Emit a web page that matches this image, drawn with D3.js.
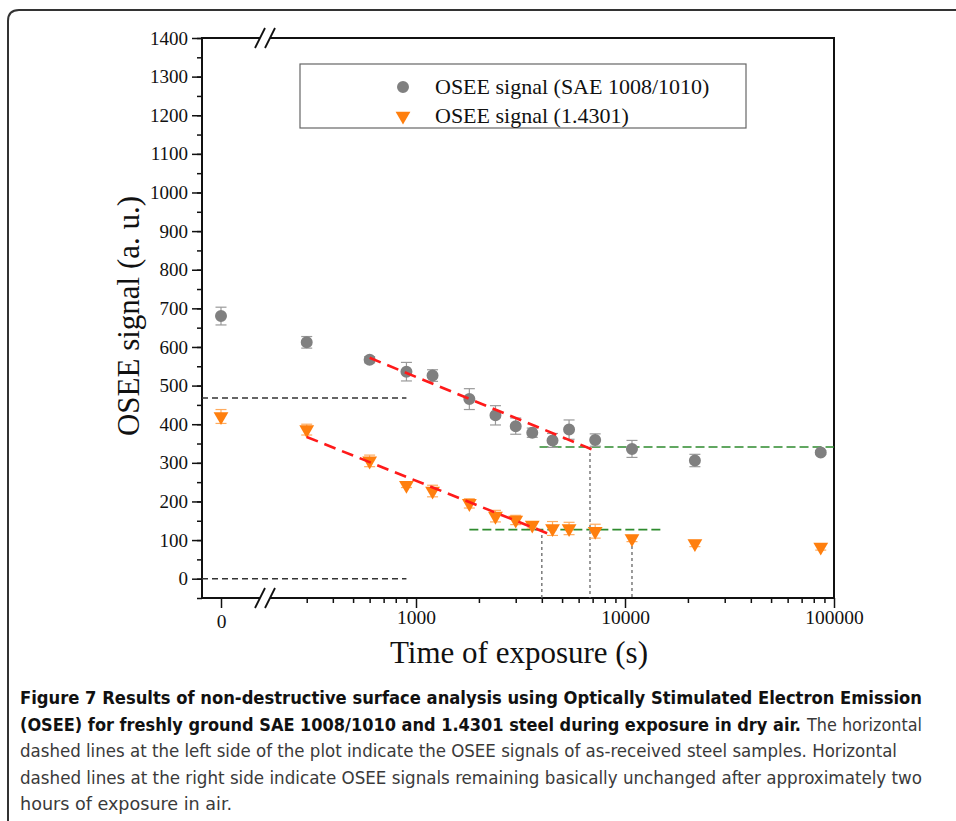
<!DOCTYPE html>
<html>
<head>
<meta charset="utf-8">
<script src="https://cdn.jsdelivr.net/npm/d3@7"></script>
<style>
  body { margin: 0; background: #fff; }
  svg { display: block; }
</style>
</head>
<body>
<div id="chart"></div>
<script>
// exposure times (s), 0 = freshly ground
const times = [0, 300, 600, 900, 1200, 1800, 2400, 3000, 3600, 4500, 5400, 7200, 10800, 21600, 86400];
const oseeSAE = [680, 612, 567, 536, 526, 465, 423, 395, 378, 358, 386, 359, 336, 306, 327];
const errSAE = [23, 15, 8, 24, 15, 27, 25, 21, 12, 18, 25, 16, 22, 16, 5];
const osee14301 = [420, 386, 305, 242, 227, 195, 162, 152, 139, 130, 130, 123, 104, 91, 82];
const err14301 = [18, 14, 15, 6, 15, 12, 15, 12, 8, 18, 16, 18, 8, 8, 8];

// fitted slopes (red), plateaus (green), as-received levels (black), markers
const fitSAE = [[600, 572], [7300, 330]];
const fit14301 = [[300, 367], [4450, 113]];
const plateauX = [[3900, 100000], [1800, 15000]];
const plateauY = [341, 127];
const asReceived = [468, 0];
const asReceivedEnd = 900;
const markerTimes = [4000, 6800, 10800];
const markerTops = [113, 341, 100];

const seriesNames = ['OSEE signal (SAE 1008/1010)', 'OSEE signal (1.4301)'];
const yTicks = d3.range(0, 1401, 100);
const yMinor = d3.range(-50, 1401, 50);

const W = 956, H = 821;
const mLeft = 202, mRight = 834, mTop = 38, mBottom = 598, brk = 265;

const svg = d3.select('#chart').append('svg')
  .attr('width', W).attr('height', H);

// figure frame
svg.append('path')
  .attr('d', `M8,${H} V21 Q8,10 19,10 H${W}`)
  .attr('fill', 'none').attr('stroke', '#333').attr('stroke-width', 2);

const y = d3.scaleLinear().domain([-50, 1400]).range([mBottom, mTop]);
const x0 = d3.scalePoint().domain([0]).range([mLeft, 240]).padding(0.5);
const dec = (mRight - 416) / 2;
const xLog = d3.scaleLog().domain([250, 100000]).range([416 - dec * Math.log10(4), mRight]);
const x = t => t === 0 ? x0(0) : xLog(t);
const isDecade = t => Math.abs(Math.log10(t) % 1) < 1e-9;

const serif = 'Liberation Serif, Times New Roman, serif';

// y axis
const yMin = svg.append('g').attr('transform', `translate(${mLeft},0)`)
  .call(d3.axisLeft(y).tickValues(yMinor).tickSize(5).tickFormat(''));
yMin.select('.domain').remove();
const yAx = svg.append('g').attr('transform', `translate(${mLeft},0)`)
  .call(d3.axisLeft(y).tickValues(yTicks).tickSize(10).tickPadding(4).tickFormat(d3.format('d')));
yAx.select('.domain').remove();
yAx.selectAll('text').attr('font-family', serif).attr('font-size', 19).attr('fill', '#111');
svg.selectAll('.tick line').attr('stroke', '#111').attr('stroke-width', 1.5);

// x axis: zero segment and log segment
const xAx0 = svg.append('g').attr('transform', `translate(0,${mBottom})`)
  .call(d3.axisBottom(x0).tickSize(10).tickPadding(6));
const xAx = svg.append('g').attr('transform', `translate(0,${mBottom})`)
  .call(d3.axisBottom(xLog).tickValues(xLog.ticks().filter(t => t >= 300))
    .tickFormat(t => (isDecade(t) ? d3.format('d')(t) : '')).tickPadding(6));
[xAx0, xAx].forEach(g => {
  g.select('.domain').remove();
  g.selectAll('text').attr('font-family', serif).attr('font-size', 19.5).attr('fill', '#111');
  g.selectAll('.tick line').attr('stroke', '#111').attr('stroke-width', 1.5);
});
xAx.selectAll('.tick line').attr('y2', t => isDecade(t) ? 10 : 5);

// frame lines
svg.append('rect').attr('x', mLeft).attr('y', mTop)
  .attr('width', mRight - mLeft).attr('height', mBottom - mTop)
  .attr('fill', 'none').attr('stroke', '#111').attr('stroke-width', 2);

// axis break marks
[mTop, mBottom].forEach(yy => {
  svg.append('polygon')
    .attr('points', `${brk - 9},${yy + 9} ${brk - 1},${yy - 9} ${brk + 9},${yy - 9} ${brk + 1},${yy + 9}`)
    .attr('fill', '#fff');
  [-5, 5].forEach(o => {
    svg.append('line')
      .attr('x1', brk + o - 5).attr('y1', yy + 10)
      .attr('x2', brk + o + 5).attr('y2', yy - 10)
      .attr('stroke', '#111').attr('stroke-width', 1.8);
  });
});

// as-received levels
asReceived.forEach(v => {
  svg.append('line')
    .attr('x1', mLeft).attr('x2', xLog(asReceivedEnd))
    .attr('y1', y(v)).attr('y2', y(v))
    .attr('stroke', '#333').attr('stroke-width', 1.5).attr('stroke-dasharray', '6,4');
});

// vertical markers
markerTimes.forEach((t, i) => {
  svg.append('line')
    .attr('x1', xLog(t)).attr('x2', xLog(t))
    .attr('y1', y(markerTops[i])).attr('y2', mBottom)
    .attr('stroke', '#666').attr('stroke-width', 1.3).attr('stroke-dasharray', '3,3');
});

// plateaus
plateauX.forEach((r, i) => {
  svg.append('line')
    .attr('x1', xLog(r[0])).attr('x2', xLog(r[1]))
    .attr('y1', y(plateauY[i])).attr('y2', y(plateauY[i]))
    .attr('stroke', '#2e8b2e').attr('stroke-width', 1.6).attr('stroke-dasharray', '9,4');
});

// error bars and markers
const circSym = d3.symbol(d3.symbolCircle, 113)();
const triSym = d3.symbol(d3.symbolTriangle, 95)();
function drawSeries(vals, errs, col, errCol, sym) {
  const g = svg.append('g');
  times.forEach((t, i) => {
    const cx = x(t);
    g.append('line').attr('x1', cx).attr('x2', cx)
      .attr('y1', y(vals[i] - errs[i])).attr('y2', y(vals[i] + errs[i]))
      .attr('stroke', errCol).attr('stroke-width', 1.2);
    [-1, 1].forEach(s => {
      g.append('line').attr('x1', cx - 5.5).attr('x2', cx + 5.5)
        .attr('y1', y(vals[i] + s * errs[i])).attr('y2', y(vals[i] + s * errs[i]))
        .attr('stroke', errCol).attr('stroke-width', 1.2);
    });
  });
  g.selectAll('path.m').data(times).join('path')
    .attr('class', 'm')
    .attr('d', sym)
    .attr('transform', (t, i) => `translate(${x(t)},${y(vals[i])})` + (sym === triSym ? ' rotate(180)' : ''))
    .attr('fill', col);
}
drawSeries(oseeSAE, errSAE, '#808080', '#9a9a9a', circSym);
drawSeries(osee14301, err14301, '#ff7f0e', '#ffab5e', triSym);

// fitted lines
[fitSAE, fit14301].forEach(f => {
  svg.append('line')
    .attr('x1', xLog(f[0][0])).attr('y1', y(f[0][1]))
    .attr('x2', xLog(f[1][0])).attr('y2', y(f[1][1]))
    .attr('stroke', '#ff1a1a').attr('stroke-width', 2.6).attr('stroke-dasharray', '12,7');
});

// legend
const lg = svg.append('g');
lg.append('rect').attr('x', 300).attr('y', 64).attr('width', 446).attr('height', 64)
  .attr('fill', '#fff').attr('stroke', '#666').attr('stroke-width', 1.2);
[[circSym, '#808080', 87], [triSym, '#ff7f0e', 116]].forEach((d, i) => {
  lg.append('path').attr('d', d[0])
    .attr('transform', `translate(403,${d[2]})` + (i === 1 ? ' rotate(180)' : ''))
    .attr('fill', d[1]);
  lg.append('text').attr('x', 435).attr('y', d[2] + 7)
    .attr('font-family', serif).attr('font-size', 22).attr('fill', '#111')
    .text(seriesNames[i]);
});

// axis titles
svg.append('text').attr('x', 519).attr('y', 663).attr('text-anchor', 'middle')
  .attr('font-family', serif).attr('font-size', 31).attr('fill', '#111')
  .text('Time of exposure (s)');
svg.append('text').attr('transform', 'translate(139,316) rotate(-90)')
  .attr('text-anchor', 'middle')
  .attr('font-family', serif).attr('font-size', 31).attr('fill', '#111')
  .text('OSEE signal (a. u.)');

// caption
const cap = svg.append('g')
  .attr('font-family', 'DejaVu Sans Condensed, Liberation Sans Narrow, Open Sans, sans-serif')
  .attr('font-size', 17.5);
const capLines = [
  [['Figure 7 Results of non-destructive surface analysis using Optically Stimulated Electron Emission', true, 20, 902]],
  [['(OSEE) for freshly ground SAE 1008/1010 and 1.4301 steel during exposure in dry air.', true, 20, 781],
   ['The horizontal', false, 807, 115]],
  [['dashed lines at the left side of the plot indicate the OSEE signals of as-received steel samples. Horizontal', false, 20, 877]],
  [['dashed lines at the right side indicate OSEE signals remaining basically unchanged after approximately two', false, 20, 902]],
  [['hours of exposure in air.', false, 20, 212]]
];
capLines.forEach((line, i) => {
  line.forEach(p => {
    cap.append('text').attr('x', p[2]).attr('y', 704 + i * 26.6)
      .attr('font-weight', p[1] ? 'bold' : 'normal')
      .attr('fill', p[1] ? '#111' : '#3a3a3a')
      .attr('textLength', p[3]).attr('lengthAdjust', 'spacingAndGlyphs')
      .text(p[0]);
  });
});
</script>
</body>
</html>
